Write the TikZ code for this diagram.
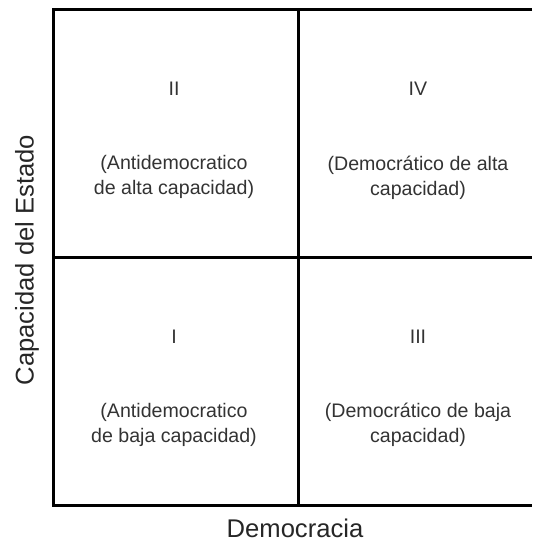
\documentclass[tikz,border=0pt]{standalone}
\usepackage{fontspec}
\setmainfont{Liberation Sans}
\usepackage{tikz}
\def\gridleft{53}
\def\gridmid{298}
\def\gridedge{532}

\tikzset{
  cell/.style={font=\fontsize{9.8}{12.5}\selectfont, text=black!80, align=center},
  axislabel/.style={font=\fontsize{12.8}{15}\selectfont, text=black!85}
}

\begin{document}
\begin{tikzpicture}[x=0.5pt, y=-0.5pt, line width=1.5pt]
  \useasboundingbox (0,0) rectangle (532,541);

  % grid (the right side runs off the picture)
  \draw (\gridedge,9) -- (\gridleft,9) -- (\gridleft,505) -- (\gridedge,505);
  \draw (\gridleft,257) -- (\gridedge,257);
  \draw (\gridmid,9) -- (\gridmid,505);

  \node[cell] (q2) at (174, 89) {II};
  \node[cell] (q4) at (418, 89) {IV};
  \node[cell] (q1) at (174, 337) {I};
  \node[cell] (q3) at (418, 337) {III};

  \node[cell] (t2) at (174, 177) {(Antidemocratico\\de alta capacidad)};
  \node[cell] (t4) at (418, 178) {(Democrático de alta\\capacidad)};
  \node[cell] (t1) at (174, 425) {(Antidemocratico\\de baja capacidad)};
  \node[cell] (t3) at (418, 425) {(Democrático de baja\\capacidad)};

  \node[axislabel] (xlab) at (295, 528) {Democracia};
  \node[axislabel, rotate=90] (ylab) at (27, 260) {Capacidad del Estado};
\end{tikzpicture}
\end{document}
